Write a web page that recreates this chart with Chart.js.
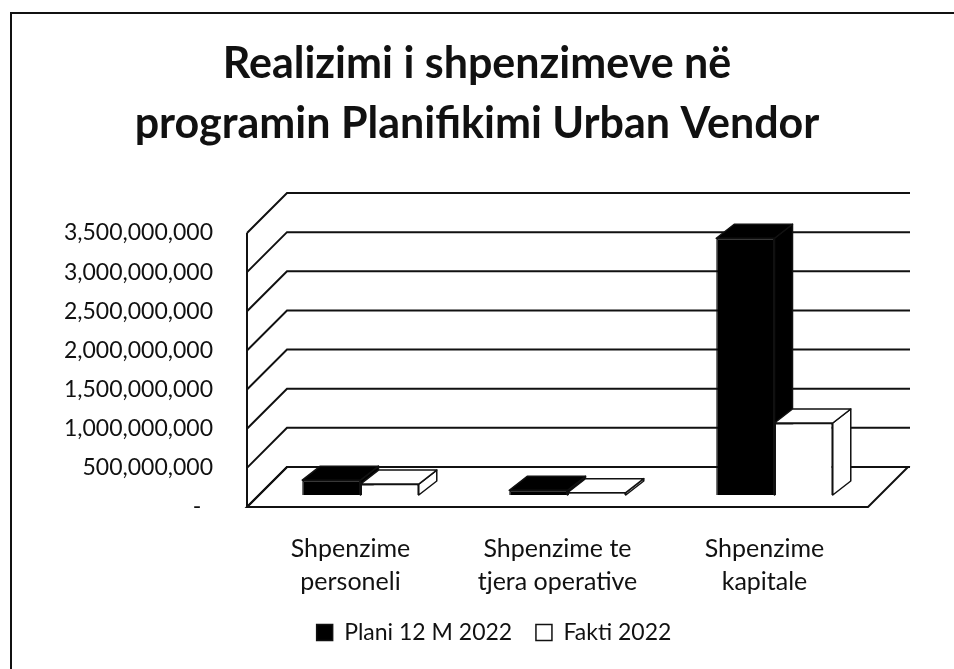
<!DOCTYPE html>
<html>
<head>
<meta charset="utf-8">
<script src="https://cdn.jsdelivr.net/npm/chart.js@4"></script>
<style>
html, body { margin: 0; padding: 0; background: #fff; }
#wrap { position: relative; width: 954px; height: 669px; overflow: hidden; }
#frame { position: absolute; left: 10px; top: 12px; right: -10px; bottom: -10px;
  border-left: 2px solid #111; border-top: 2px solid #111; }
canvas { position: absolute; left: 0; top: 0; }
</style>
</head>
<body>
<div id="wrap">
  <div id="frame"></div>
  <canvas id="chart" width="954" height="669"></canvas>
</div>
<script>
// chart data
const titleLines = ["Realizimi i shpenzimeve në", "programin Planifikimi Urban Vendor"];
const categories = [["Shpenzime", "personeli"], ["Shpenzime te", "tjera operative"], ["Shpenzime", "kapitale"]];
const seriesNames = ["Plani 12 M 2022", "Fakti 2022"];
const plani = [190000000, 60000000, 3280000000];
const fakti = [140000000, 30000000, 920000000];
const yTicks = [0, 500000000, 1000000000, 1500000000, 2000000000, 2500000000, 3000000000, 3500000000];

const FONT = "Lato, 'Open Sans', sans-serif";
const INK = "#111";

// fake 3D look: walls and floor depth, bar shift and bar depth
const wallDepth = {dx: 40, dy: -40};
const barShift = {dx: 10, dy: -12};
const barDepth = {dx: 18, dy: -14};

function poly(ctx, pts){
  ctx.beginPath();
  ctx.moveTo(pts[0][0], pts[0][1]);
  for(const p of pts.slice(1)) ctx.lineTo(p[0], p[1]);
  ctx.closePath();
}

function drawWalls(chart){
  const {ctx, chartArea: a, scales: {y}} = chart;
  const yb = y.getPixelForValue(0);
  const yt = y.getPixelForValue(yTicks[yTicks.length - 1]);
  ctx.save();
  ctx.strokeStyle = INK;
  ctx.lineWidth = 2;
  poly(ctx, [[a.left, yb], [a.right, yb], [a.right + wallDepth.dx, yb + wallDepth.dy], [a.left + wallDepth.dx, yb + wallDepth.dy]]);
  ctx.stroke();
  for(const v of yTicks){
    const py = y.getPixelForValue(v);
    ctx.beginPath();
    ctx.moveTo(a.left, py);
    ctx.lineTo(a.left + wallDepth.dx, py + wallDepth.dy);
    ctx.lineTo(a.right + wallDepth.dx + 2, py + wallDepth.dy);
    ctx.stroke();
  }
  ctx.beginPath();
  ctx.moveTo(a.left, yt);
  ctx.lineTo(a.left, yb);
  ctx.stroke();
  ctx.restore();
}

// top and side faces, category by category so nearer bars cover farther ones
function drawBarDepth(chart){
  const ctx = chart.ctx;
  const {dx, dy} = barDepth;
  ctx.save();
  ctx.translate(barShift.dx, barShift.dy);
  ctx.strokeStyle = INK;
  ctx.lineWidth = 1.5;
  ctx.lineJoin = "round";
  categories.forEach((c, j) => {
    chart.data.datasets.forEach((ds, i) => {
      const bar = chart.getDatasetMeta(i).data[j];
      const {x, y, base, width} = bar.getProps(["x", "y", "base", "width"], true);
      const l = x - width / 2, r = x + width / 2;
      ctx.fillStyle = ds.backgroundColor;
      poly(ctx, [[r, y], [r + dx, y + dy], [r + dx, base + dy], [r, base]]);
      ctx.fill(); ctx.stroke();
      poly(ctx, [[l, y], [r, y], [r + dx, y + dy], [l + dx, y + dy]]);
      ctx.fill(); ctx.stroke();
    });
  });
  ctx.restore();
}

const fake3d = {
  id: "fake3d",
  afterLayout(chart){
    // the reference legend sits a bit right of the page centre
    if(chart.legend){ chart.legend.left += 17; chart.legend.right += 17; }
  },
  beforeDatasetsDraw(chart){
    drawWalls(chart);
    drawBarDepth(chart);
  },
  beforeDatasetDraw(chart){
    chart.ctx.save();
    chart.ctx.translate(barShift.dx, barShift.dy);
  },
  afterDatasetDraw(chart){
    chart.ctx.restore();
  }
};

const LAYOUT_BOTTOM = 15;

new Chart(document.getElementById("chart"), {
  type: "bar",
  data: {
    labels: categories,
    datasets: [
      {label: seriesNames[0], data: plani, backgroundColor: "#000", borderColor: INK, borderWidth: 1.5, clip: false},
      {label: seriesNames[1], data: fakti, backgroundColor: "#fff", borderColor: INK, borderWidth: 1.5, clip: false},
    ]
  },
  options: {
    responsive: false,
    animation: false,
    layout: {padding: {left: 0, right: 0, top: 0, bottom: LAYOUT_BOTTOM}},
    datasets: {bar: {barPercentage: 1, categoryPercentage: 0.563}},
    scales: {
      x: {
        grid: {display: false},
        border: {display: false},
        ticks: {color: INK, font: {family: FONT, size: 25, lineHeight: 1.32}, padding: 17, maxRotation: 0},
        afterFit(scale){
          const lg = scale.chart.legend;
          const lh = lg ? lg.height : 45;
          scale.height = scale.chart.height - LAYOUT_BOTTOM - lh - 507;
        }
      },
      y: {
        min: 0,
        max: yTicks[yTicks.length - 1],
        grid: {display: false},
        border: {display: false},
        afterBuildTicks(scale){
          scale.ticks = yTicks.map(v => ({value: v}));
        },
        ticks: {
          color: INK,
          padding: 26,
          font: {family: FONT, size: 23},
          callback: v => v === 0 ? "-  " : Number(v).toLocaleString("en-US")
        },
        afterFit(scale){ scale.width = 247; }
      },
      // empty right gutter so the plot ends where the reference floor ends
      gutter: {
        position: "right",
        display: true,
        grid: {display: false},
        border: {display: false},
        ticks: {display: false},
        afterFit(scale){ scale.width = 86; }
      }
    },
    plugins: {
      title: {
        display: true,
        text: titleLines,
        color: INK,
        font: {family: FONT, size: 43, weight: "bold", lineHeight: 1.4},
        padding: {top: 34, bottom: 78.6}
      },
      legend: {
        position: "bottom",
        labels: {
          color: INK,
          font: {family: FONT, size: 23},
          boxWidth: 16,
          boxHeight: 16,
          padding: 12,
          generateLabels(chart){
            // small extra gap after the first entry, as in the reference legend
            const items = Chart.defaults.plugins.legend.labels.generateLabels(chart);
            items[0].text = items[0].text + "  ";
            return items;
          }
        }
      },
      tooltip: {enabled: false}
    }
  },
  plugins: [fake3d]
});
</script>
</body>
</html>
